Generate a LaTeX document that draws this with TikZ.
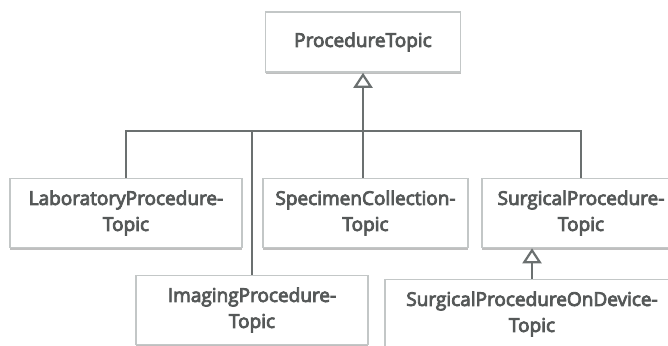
\documentclass[tikz,border=0pt]{standalone}
\usepackage{fontspec}
\newfontfamily\topicfont{Open Sans}
\usetikzlibrary{arrows.meta,shadows}
\definecolor{linegray}{HTML}{6B7070}
\definecolor{boxgray}{HTML}{C3C7C7}
\definecolor{textgray}{HTML}{555858}
\begin{document}
\begin{tikzpicture}[
    x=1pt, y=-1pt,
    topic/.style={rectangle, draw=boxgray, line width=1.6pt, fill=white, align=center,
      inner sep=0pt, text=textgray, font=\topicfont\fontsize{19}{26}\selectfont,
      execute at begin node={\special{pdf:literal direct 2 Tr 0.8 w}},
      execute at end node={\special{pdf:literal direct 0 Tr}},
      drop shadow={shadow xshift=0pt, shadow yshift=-2pt, fill=black!25, opacity=1}},
    edge/.style={draw=linegray, line width=2.2pt},
    inherit/.style={edge, -{Triangle[open, length=15pt, width=19pt, line width=2.2pt]}}
    ]
    \useasboundingbox (0,0) rectangle (668,345);
    % parent
    \node[topic, minimum width=195pt, minimum height=60pt] (proc) at (363,42) {ProcedureTopic};
    % children
    \node[topic, minimum width=232pt, minimum height=69pt] (lab) at (126,213) {LaboratoryProcedure-\\Topic};
    \node[topic, minimum width=205pt, minimum height=69pt] (spec) at (365.5,213) {SpecimenCollection-\\Topic};
    \node[topic, minimum width=198pt, minimum height=69pt] (surg) at (581,213) {SurgicalProcedure-\\Topic};
    \node[topic, minimum width=232pt, minimum height=69pt] (imag) at (252,310) {ImagingProcedure-\\Topic};
    \node[topic, minimum width=294pt, minimum height=69pt] (dev) at (532,314) {SurgicalProcedureOnDevice-\\Topic};
    % connectors
    \coordinate (join) at (363,131);
    \draw[edge] (lab.north) |- (join);
    \draw[edge] (imag.north) |- (join);
    \draw[edge] (spec.north -| join) -- (join);
    \draw[edge] (surg.north) |- (join);
    \draw[inherit] (join) -- (proc.south);
    \draw[inherit] (dev.north) -- (dev.north |- surg.south);
\end{tikzpicture}
\end{document}
